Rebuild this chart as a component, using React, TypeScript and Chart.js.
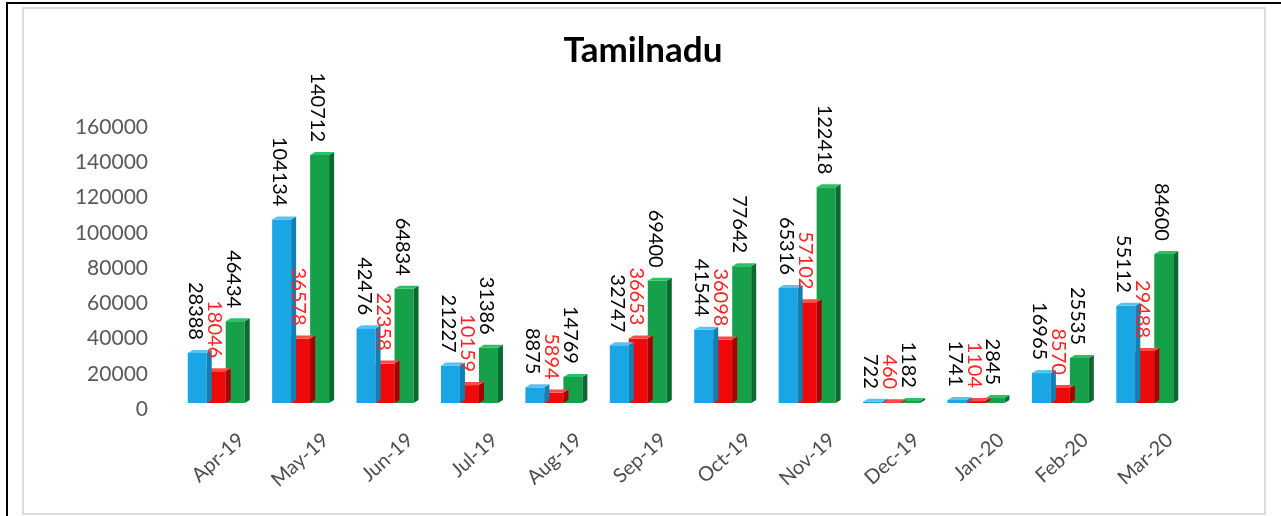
import React, { useEffect, useRef } from "react";
import { Chart, registerables } from "chart.js";

Chart.register(...registerables);

const categories = ["Apr-19", "May-19", "Jun-19", "Jul-19", "Aug-19", "Sep-19", "Oct-19", "Nov-19", "Dec-19", "Jan-20", "Feb-20", "Mar-20"];
const blueValues = [28388, 104134, 42476, 21227, 8875, 32747, 41544, 65316, 722, 1741, 16965, 55112];
const redValues = [18046, 36578, 22358, 10159, 5894, 36653, 36098, 57102, 460, 1104, 8570, 29488];
const greenValues = [46434, 140712, 64834, 31386, 14769, 69400, 77642, 122418, 1182, 2845, 25535, 84600];
const yTicks = [0, 20000, 40000, 60000, 80000, 100000, 120000, 140000, 160000];
const titleText = "Tamilnadu";

const FRONT = ["#1aa6e4", "#ee0a0a", "#15a049"];
const SIDE = ["#0f7fb4", "#a80000", "#0b6a30"];
const TOP = ["#58c2f0", "#ff4a4a", "#2cc064"];
const LABEL_COLORS = ["#000000", "#ff2222", "#000000"];
const DX = 5;
const DY = -3;

const bar3d = {
  id: "bar3d",
  afterDatasetDraw(chart: any, args: any) {
    const ctx = chart.ctx;
    const i = args.index;
    const meta = args.meta;
    ctx.save();
    meta.data.forEach((el: any) => {
      const { x, y, base, width } = el.getProps(["x", "y", "base", "width"], true);
      const l = x - width / 2;
      const r = x + width / 2;
      ctx.fillStyle = SIDE[i];
      ctx.beginPath();
      ctx.moveTo(r, y);
      ctx.lineTo(r + DX, y + DY);
      ctx.lineTo(r + DX, base + DY);
      ctx.lineTo(r, base);
      ctx.closePath();
      ctx.fill();
      ctx.fillStyle = TOP[i];
      ctx.beginPath();
      ctx.moveTo(l, y);
      ctx.lineTo(l + DX, y + DY);
      ctx.lineTo(r + DX, y + DY);
      ctx.lineTo(r, y);
      ctx.closePath();
      ctx.fill();
    });
    ctx.restore();
  },
  afterDatasetsDraw(chart: any) {
    const ctx = chart.ctx;
    ctx.save();
    ctx.font = "20px Lato";
    ctx.textAlign = "right";
    ctx.textBaseline = "middle";
    chart.data.datasets.forEach((ds: any, i: number) => {
      const meta = chart.getDatasetMeta(i);
      meta.data.forEach((el: any, j: number) => {
        const { x, y } = el.getProps(["x", "y"], true);
        ctx.save();
        ctx.translate(x - 2, y - 13);
        ctx.rotate(Math.PI / 2);
        ctx.fillStyle = LABEL_COLORS[i];
        ctx.fillText(String(ds.data[j]), 0, 0);
        ctx.restore();
      });
    });
    ctx.restore();
  },
  afterDraw(chart: any) {
    const ctx = chart.ctx;
    ctx.save();
    ctx.font = "bold 35px Lato";
    ctx.fillStyle = "#000000";
    ctx.textAlign = "center";
    ctx.textBaseline = "middle";
    ctx.fillText(titleText, 643, 51);
    ctx.restore();
  },
};

export default function App() {
  const ref = useRef<HTMLCanvasElement | null>(null);
  useEffect(() => {
    if (!ref.current) return;
    const chart = new Chart(ref.current, {
      type: "bar",
      data: {
        labels: categories,
        datasets: [
          { label: "A", data: blueValues, backgroundColor: FRONT[0], borderWidth: 0 },
          { label: "B", data: redValues, backgroundColor: FRONT[1], borderWidth: 0 },
          { label: "C", data: greenValues, backgroundColor: FRONT[2], borderWidth: 0 },
        ],
      },
      options: {
        responsive: false,
        animation: false,
        events: [],
        layout: { padding: { left: 0, right: 94, top: 121, bottom: 0 } },
        datasets: { bar: { categoryPercentage: 0.675, barPercentage: 1 } },
        plugins: {
          legend: { display: false },
          tooltip: { enabled: false },
          title: { display: false },
        },
        scales: {
          x: {
            grid: { display: false, drawTicks: false },
            border: { display: false },
            ticks: {
              color: "#4d4d4d",
              font: { family: "Lato", size: 20 },
              minRotation: 42,
              maxRotation: 42,
              autoSkip: false,
              padding: 25,
              labelOffset: 25,
            },
            afterFit: (s: any) => {
              s.height = 113;
            },
          },
          y: {
            min: 0,
            max: 160000,
            grid: { display: false, drawTicks: false },
            border: { display: false },
            afterBuildTicks: (s: any) => {
              s.ticks = yTicks.map((v) => ({ value: v }));
            },
            ticks: {
              color: "#595959",
              font: { family: "Lato", size: 21 },
              padding: 26,
              labelOffset: 6,
              callback: (v: any) => String(v),
            },
            afterFit: (s: any) => {
              s.width = 174;
            },
          },
        },
      },
      plugins: [bar3d],
    });
    return () => chart.destroy();
  }, []);

  return (
    <div style={{ position: "absolute", left: 0, top: 0, width: 1281, height: 516, overflow: "hidden", background: "#ffffff" }}>
      <div style={{ position: "absolute", left: 6, top: 2, width: 1300, height: 540, border: "2px solid #000000" }} />
      <div style={{ position: "absolute", left: 22, top: 7, width: 1240, height: 504, border: "2px solid #dedede" }} />
      <canvas ref={ref} width={1281} height={516} style={{ position: "absolute", left: 0, top: 0 }} />
    </div>
  );
}
